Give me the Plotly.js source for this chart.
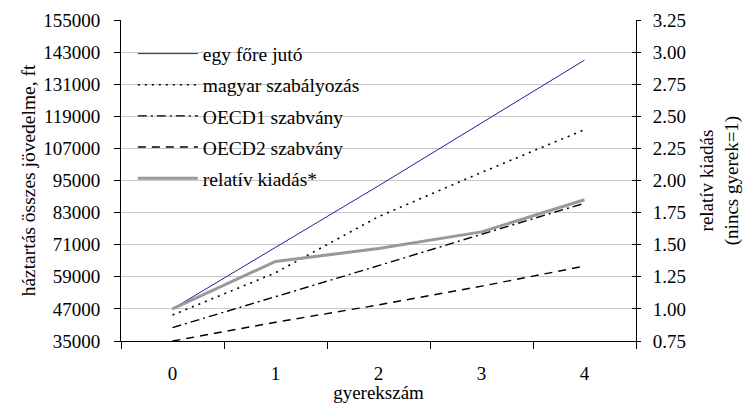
<!DOCTYPE html>
<html>
<head>
<meta charset="utf-8">
<script src="https://cdn.plot.ly/plotly-3.0.1.min.js"></script>
<style>html,body{margin:0;padding:0;background:#fff;}#chart{width:747px;height:403px;}</style>
</head>
<body>
<div id="chart"></div>
<script>
var categories = ["0", "1", "2", "3", "4"];
var egyFore = [47000, 70000, 93000, 116500, 140000];
var magyar = [44700, 60500, 81500, 98000, 114000];
var oecd1 = [40000, 51500, 63150, 74900, 86500];
var oecd2 = [35000, 42000, 48500, 55500, 63000];
var relativ = [1.00, 1.37, 1.47, 1.60, 1.85];

var leftTicks = [35000, 47000, 59000, 71000, 83000, 95000, 107000, 119000, 131000, 143000, 155000];
var rightTicks = [0.75, 1.00, 1.25, 1.50, 1.75, 2.00, 2.25, 2.50, 2.75, 3.00, 3.25];

var F = "Liberation Serif";

var traces = [
  {x: categories, y: egyFore, name: "egy főre jutó", mode: "lines", legendgroup: "a",
   line: {color: "#1f1f9e", width: 1}},
  {x: categories, y: magyar, name: "magyar szabályozás", mode: "lines", legendgroup: "b",
   line: {color: "#000000", width: 1.6, dash: "2px,5px"}},
  {x: categories, y: oecd1, name: "OECD1 szabvány", mode: "lines", legendgroup: "c",
   line: {color: "#000000", width: 1.4, dash: "9px,4px,2px,4px"}},
  {x: categories, y: oecd2, name: "OECD2 szabvány", mode: "lines", legendgroup: "d",
   line: {color: "#000000", width: 1.4, dash: "8px,6px"}},
  {x: categories, y: relativ, name: "relatív kiadás*", mode: "lines", yaxis: "y2", legendgroup: "e",
   line: {color: "#999999", width: 3}}
];

var layout = {
  width: 747, height: 403,
  margin: {l: 121, r: 111, t: 20, b: 62},
  paper_bgcolor: "#ffffff", plot_bgcolor: "#ffffff",
  font: {family: F, size: 19, color: "#000"},
  showlegend: true,
  legend: {x: 0.023, y: 0.955, xanchor: "left", yanchor: "top", bgcolor: "rgba(0,0,0,0)",
    font: {family: F, size: 19.5, color: "#000"}, itemwidth: 60, tracegroupgap: 2.8,
    traceorder: "grouped"},
  shapes: [{type: "rect", xref: "paper", yref: "paper", x0: 0.002, x1: 0.487, y0: 0.455, y1: 0.95,
    fillcolor: "#ffffff", line: {width: 0}, layer: "between"}],
  xaxis: {type: "category", range: [-0.5, 4.5], tickson: "boundaries", ticks: "outside", ticklen: 7,
    tickcolor: "#000", showline: true, linecolor: "#000", linewidth: 1, showgrid: false,
    ticklabelstandoff: 15, tickfont: {family: F, size: 19},
    title: {text: "gyerekszám", font: {family: F, size: 19}, standoff: 0}},
  yaxis: {range: [35000, 155000], tickvals: leftTicks, ticktext: leftTicks.map(String),
    ticks: "outside", ticklen: 6, tickcolor: "#000", showline: true, linecolor: "#000",
    showgrid: true, gridcolor: "#c8c8c8", gridwidth: 1, zeroline: false,
    ticklabelstandoff: 10, tickfont: {family: F, size: 19},
    title: {text: "háztartás összes jövedelme, ft", font: {family: F, size: 19.5}, standoff: 2}},
  yaxis2: {overlaying: "y", side: "right", range: [0.75, 3.25], tickvals: rightTicks,
    ticktext: rightTicks.map(function(v){return v.toFixed(2);}),
    ticks: "outside", ticklen: 4, tickcolor: "#000", showline: true, linecolor: "#000",
    showgrid: false, zeroline: false, ticklabelstandoff: 8, tickfont: {family: F, size: 19},
    title: {text: "relatív kiadás<br>(nincs gyerek=1)", font: {family: F, size: 19}, standoff: 14}},
  yaxis3: {overlaying: "y", side: "right", range: [0.75, 3.25], tickvals: rightTicks,
    ticks: "inside", ticklen: 4, tickcolor: "#000", showticklabels: false, showline: false,
    showgrid: false, zeroline: false}
};

traces.push({x: categories, y: relativ, yaxis: "y3", mode: "lines", showlegend: false,
  hoverinfo: "skip", line: {color: "rgba(0,0,0,0)", width: 0}});

Plotly.newPlot("chart", traces, layout, {displayModeBar: false, staticPlot: true});
</script>
</body>
</html>
